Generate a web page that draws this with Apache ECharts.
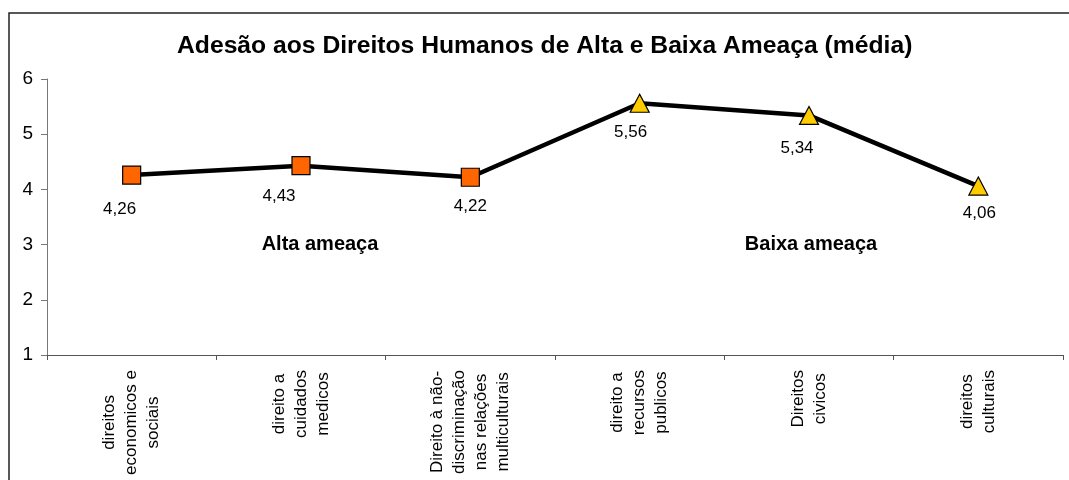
<!DOCTYPE html>
<html>
<head>
<meta charset="utf-8">
<script src="https://cdn.jsdelivr.net/npm/echarts@6/dist/echarts.min.js"></script>
<style>html,body{margin:0;padding:0;background:#fff}#c{width:1069px;height:480px}</style>
</head>
<body>
<div id="c"></div>
<script>
const titleText = 'Adesão aos Direitos Humanos de Alta e Baixa Ameaça (média)';
const categories = [
  'direitos\neconomicos e\nsociais',
  'direito a\ncuidados\nmedicos',
  'Direito à não-\ndiscriminação\nnas relações\nmulticulturais',
  'direito a\nrecursos\npublicos',
  'Direitos\ncivicos',
  'direitos\nculturais'
];
const values = [4.26, 4.43, 4.22, 5.56, 5.34, 4.06];
const groups = ['alta', 'alta', 'alta', 'baixa', 'baixa', 'baixa'];
const groupLabels = [
  { name: 'Alta ameaça', category: 1, value: 3 },
  { name: 'Baixa ameaça', category: 4, value: 3 }
];
const yTicks = [1, 2, 3, 4, 5, 6];

// styling (not data)
const labelOffsets = [[-12, 34], [-22, 31], [0, 29], [-9, 29], [-12, 33], [1, 27]];
const groupLabelOffsets = [[19, 0], [2, 0]];
const FONT = "'Liberation Sans', Arial, sans-serif";
const groupStyle = {
  alta: { symbol: 'rect', color: '#FF6600', size: 18 },
  baixa: { symbol: 'triangle', color: '#FFCC00', size: [19, 18] }
};

const chart = echarts.init(document.getElementById('c'), null, { renderer: 'canvas' });
chart.setOption({
  animation: false,
  backgroundColor: '#ffffff',
  textStyle: { fontFamily: FONT },
  title: {
    text: titleText,
    left: 177,
    top: 34,
    padding: 0,
    textStyle: { fontFamily: FONT, fontSize: 24.7, fontWeight: 'bold', color: '#000' }
  },
  graphic: [{
    type: 'rect',
    shape: { x: 9, y: 13, width: 1100, height: 500 },
    style: { fill: 'none', stroke: '#222', lineWidth: 1.5 },
    silent: true,
    z: 0
  }],
  grid: { left: 47, right: 6, top: 79, bottom: 125, containLabel: false },
  xAxis: {
    type: 'category',
    data: categories,
    boundaryGap: true,
    axisLine: { show: true, lineStyle: { color: '#555', width: 1 } },
    axisTick: { show: true, alignWithLabel: false, length: 5, inside: false, lineStyle: { color: '#555' } },
    axisLabel: {
      rotate: 90,
      interval: 0,
      margin: 15,
      color: '#000',
      formatter: v => v.split('\n').map(s => '{c|' + s + '}').join('\n'),
      rich: { c: { align: 'center', fontFamily: FONT, fontSize: 17, lineHeight: 22, color: '#000' } }
    },
    splitLine: { show: false }
  },
  yAxis: {
    type: 'value',
    min: yTicks[0],
    max: yTicks[yTicks.length - 1],
    interval: 1,
    axisLine: { show: true, lineStyle: { color: '#777', width: 1 } },
    axisTick: { show: true, length: 6, lineStyle: { color: '#777' } },
    axisLabel: { fontFamily: FONT, fontSize: 19, color: '#000', margin: 14 },
    splitLine: { show: false }
  },
  series: [{
    type: 'line',
    data: values.map((v, i) => ({
      value: v,
      symbol: groupStyle[groups[i]].symbol,
      symbolSize: groupStyle[groups[i]].size,
      itemStyle: { color: groupStyle[groups[i]].color, borderColor: '#000', borderWidth: 1.2 },
      label: { offset: labelOffsets[i] }
    })),
    lineStyle: { color: '#000', width: 4.5 },
    showAllSymbol: true,
    z: 3,
    label: {
      show: true,
      position: 'inside',
      fontFamily: FONT,
      fontSize: 17,
      color: '#000',
      formatter: p => String(p.value).replace('.', ',')
    },
    markPoint: {
      symbol: 'circle',
      symbolSize: 0,
      label: {
        show: true,
        position: 'inside',
        formatter: '{b}',
        fontFamily: FONT,
        fontSize: 20,
        fontWeight: 'bold',
        color: '#000'
      },
      data: groupLabels.map((g, i) => ({
        name: g.name,
        coord: [categories[g.category], g.value],
        label: { offset: groupLabelOffsets[i] }
      }))
    }
  }]
});
</script>
</body>
</html>
